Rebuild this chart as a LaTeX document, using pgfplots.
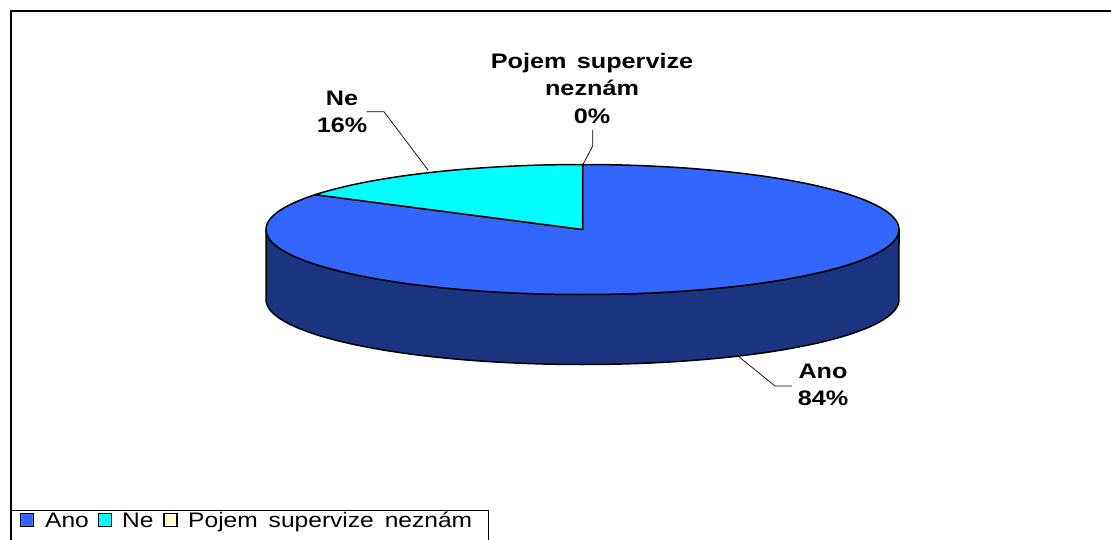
\documentclass[border=0pt]{standalone}
\usepackage{fontspec}
\setmainfont{Liberation Sans}[FakeStretch=1.2,WordSpace=1.5]
\newfontfamily\legfont{Liberation Sans}[FakeStretch=1.17,WordSpace=1.6]
\usepackage{pgfplots}
\pgfplotsset{compat=1.18}
\definecolor{anotop}{HTML}{3366FF}
\definecolor{anoside}{HTML}{1B3480}
\definecolor{ne}{HTML}{00FFFF}
\definecolor{pojem}{HTML}{FFFFCC}
% data (percent)
\def\vAno{84}
\def\vNe{16}
\def\vPoj{0}
\pgfmathsetmacro\aStart{90}
\pgfmathsetmacro\aNe{90+3.6*\vNe}
\pgfmathsetmacro\aAnoEnd{\aNe+3.6*\vAno}
% pie geometry (in px units)
\def\cx{582.5}
\def\cy{309.5}
\def\ra{316.5}
\def\rb{65}
\def\dep{70}
\begin{document}
\begin{tikzpicture}
\begin{axis}[x=1pt,y=1pt,xmin=0,xmax=1111,ymin=0,ymax=539,
  hide axis,clip=false,anchor=origin,at={(0,0)}]
% frame
\addplot[black,line width=2pt,mark=none] coordinates {(11,-5) (11,528) (1120,528)};
% side of pie (front half)
\addplot[fill=anoside,draw=black,line width=1.5pt,line join=round,domain=180:540,samples=361,mark=none]
  ({\cx+\ra*cos(((x<=360)?x:(720-x)))},{\cy+\rb*sin(((x<=360)?x:(720-x)))-(x>360)*\dep}) -- cycle;
% top faces
\addplot[fill=anotop,draw=black,line width=1.5pt,line join=round,domain=\aNe:\aAnoEnd,samples=300,mark=none]
  ({\cx+\ra*cos(x)},{\cy+\rb*sin(x)}) -- (axis cs:\cx,\cy) -- cycle;
\addplot[fill=ne,draw=black,line width=1.5pt,line join=round,domain=\aStart:\aNe,samples=80,mark=none]
  ({\cx+\ra*cos(x)},{\cy+\rb*sin(x)}) -- (axis cs:\cx,\cy) -- cycle;
% leader lines
\addplot[black,line width=0.7pt,mark=none] coordinates {(592.7,409) (592.7,393) (582.7,374)};
\addplot[black,line width=0.7pt,mark=none] coordinates {(366.7,427.3) (384,427.3) (428,369)};
\addplot[black,line width=0.7pt,mark=none] coordinates {(736.7,184) (775,153) (792,153)};
% data labels
\node[align=center,font=\fontsize{21}{27.5}\selectfont\bfseries] at (axis cs:592,451) {Pojem supervize\\neznám\\0\%};
\node[align=center,font=\fontsize{21}{27}\selectfont\bfseries] at (axis cs:342,427.5) {Ne\\16\%};
\node[align=center,font=\fontsize{21}{27}\selectfont\bfseries] at (axis cs:823,154) {Ano\\84\%};
% legend
\addplot[black,line width=1pt,mark=none] coordinates {(11,29) (488,29) (488,-5)};
\addplot[only marks,mark=square*,mark size=6.5pt,mark options={fill=anotop,draw=black,line width=1.2pt}] coordinates {(27,19)};
\addplot[only marks,mark=square*,mark size=6.5pt,mark options={fill=ne,draw=black,line width=1.2pt}] coordinates {(105,19)};
\addplot[only marks,mark=square*,mark size=6.5pt,mark options={fill=pojem,draw=black,line width=1.2pt}] coordinates {(170.5,19)};
\node[anchor=base west,inner sep=0pt,font=\legfont\fontsize{21}{25}\selectfont] at (axis cs:45,12) {Ano};
\node[anchor=base west,inner sep=0pt,font=\legfont\fontsize{21}{25}\selectfont] at (axis cs:122,12) {Ne};
\node[anchor=base west,inner sep=0pt,font=\legfont\fontsize{21}{25}\selectfont] at (axis cs:188,12) {Pojem supervize neznám};
\end{axis}
\pgfresetboundingbox
\path (0,0) rectangle (1111pt,539pt);
\end{tikzpicture}
\end{document}
